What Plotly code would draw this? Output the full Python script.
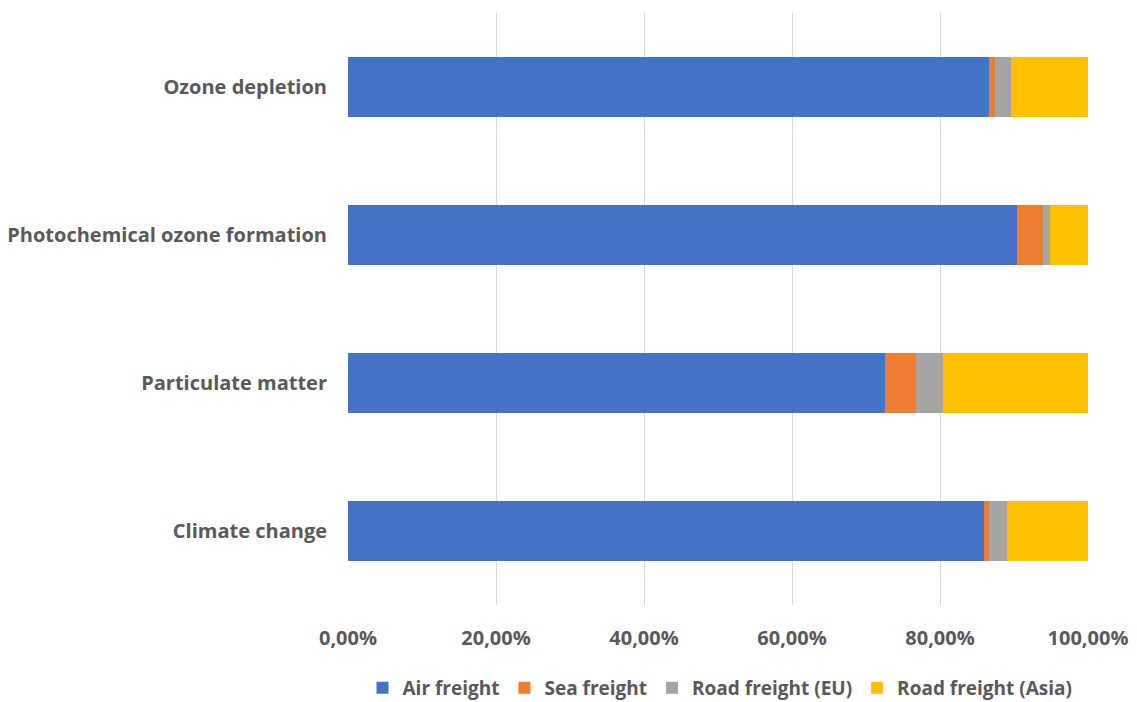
import plotly.graph_objects as go

categories = ["Climate change", "Particulate matter", "Photochemical ozone formation", "Ozone depletion"]
air_freight = [0.8597, 0.7254, 0.9040, 0.8665]
sea_freight = [0.0068, 0.0424, 0.0350, 0.0081]
road_eu = [0.0238, 0.0360, 0.0103, 0.0220]
road_asia = [0.1097, 0.1962, 0.0507, 0.1034]

series = [
    ("Air freight", air_freight, "#4472C4"),
    ("Sea freight", sea_freight, "#ED7D31"),
    ("Road freight (EU)", road_eu, "#A5A5A5"),
    ("Road freight (Asia)", road_asia, "#FFC000"),
]

tick_vals = [0, 0.2, 0.4, 0.6, 0.8, 1.0]

fig = go.Figure()
for name, vals, color in series:
    fig.add_trace(go.Bar(
        y=categories, x=vals, name=name, orientation="h",
        marker=dict(color=color, line=dict(width=0)),
        width=0.405,
    ))

family = "Open Sans, Liberation Sans, sans-serif"
font = dict(family=family, size=20, color="#595959", weight=700)

fig.update_layout(
    barmode="stack",
    width=1137, height=702,
    margin=dict(l=348, r=49, t=13, b=97, autoexpand=False),
    plot_bgcolor="white", paper_bgcolor="white",
    separators=",.",
    font=font,
    showlegend=True,
    legend=dict(orientation="h", xref="container", yref="container",
                x=720 / 1137, xanchor="center", y=1 - 688 / 702, yanchor="middle",
                font=dict(size=19, color="#595959", family=family, weight=700),
                traceorder="normal", itemwidth=30),
    xaxis=dict(range=[0, 1], tickvals=tick_vals, tickformat=".2%",
               showgrid=True, gridcolor="#D9D9D9", gridwidth=1,
               zeroline=False, showline=False, ticks="",
               tickfont=dict(size=20), ticklabelstandoff=19),
    yaxis=dict(showgrid=False, zeroline=False, showline=False, ticks="",
               tickfont=dict(size=20), ticklabelstandoff=20,
               range=[-0.5, 3.5]),
)

fig.write_html("out.html")
